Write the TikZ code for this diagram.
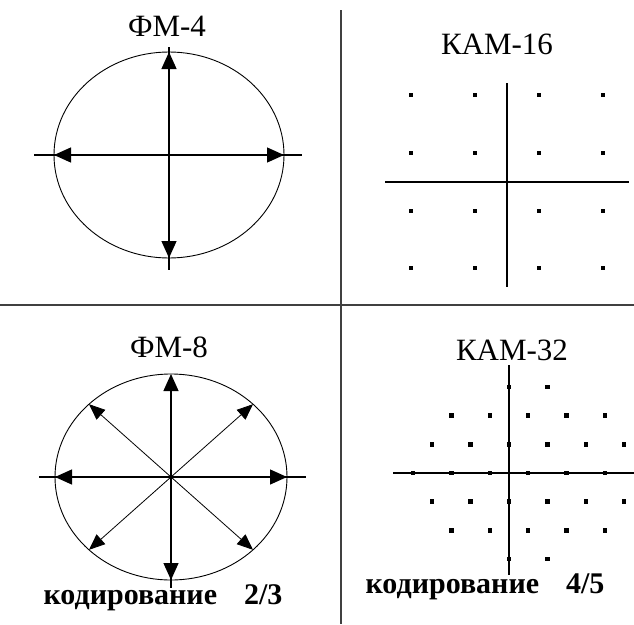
\documentclass[tikz,border=0pt]{standalone}
\usepackage{fontspec}
\setmainfont{Liberation Serif}
\usetikzlibrary{arrows.meta,positioning,calc}

\tikzset{
  title/.style={font=\fontsize{31}{33}\selectfont, inner sep=0pt},
  caption/.style={font=\fontsize{30}{32}\selectfont\bfseries, inner sep=0pt},
  axis/.style={line width=1.3pt},
  vec/.style={line width=1.3pt, -{Triangle[length=17pt, width=15pt]}},
  dvec/.style={line width=0.8pt, -{Triangle[length=16pt, width=13pt]}},
  ring/.style={line width=0.9pt},
  dot/.style={fill, rectangle, inner sep=0pt, minimum size=4.5pt},
}

\begin{document}
\begin{tikzpicture}[x=1pt, y=-1pt]
    \useasboundingbox (0,0) rectangle (634,624);
    
    % dividers
    \draw[line width=1.5pt, black!75] (0,305) -- (634,305);
    \draw[line width=1.5pt, black!75] (341,10) -- (341,624);
    
    % FM-4
    \node[title] (fm4) at (167,26) {ФМ-4};
    \coordinate (c4) at (169,155);
    \draw[ring] (c4) ellipse [x radius=115, y radius=103];
    \draw[axis] (34,155) -- (302,155);
    \draw[axis] (169,47) -- (169,270);
    \foreach \a/\n in {0/e, 90/n, 180/w, 270/s} {
      \coordinate (p4\n) at ($(c4)+({115*cos(\a)},{-103*sin(\a)})$);
      \draw[vec] (c4) -- (p4\n);
    }
    
    % KAM-16
    \node[title] (kam16) at (497,44) {КАМ-16};
    \coordinate (c16) at (507,182);
    \draw[axis] (385,182) -- (629,182);
    \draw[axis] (507,83) -- (507,287);
    \foreach \x in {411,475,539,603}
      \foreach \y in {95,153,211,268}
        \node[dot] at (\x,\y) {};
    
    % FM-8
    \node[title] (fm8) at (169,347) {ФМ-8};
    \coordinate (c8) at (171,477);
    \draw[ring] (c8) ellipse [x radius=116, y radius=103];
    \draw[axis] (39,477) -- (306,477);
    \draw[axis] (171,376) -- (171,588);
    \foreach \a/\n in {0/e, 90/n, 180/w, 270/s} {
      \coordinate (p8\n) at ($(c8)+({116*cos(\a)},{-103*sin(\a)})$);
      \draw[vec] (c8) -- (p8\n);
    }
    \foreach \a/\n in {45/ne, 135/nw, 225/sw, 315/se} {
      \coordinate (p8\n) at ($(c8)+({116*cos(\a)},{-103*sin(\a)})$);
      \draw[dvec] (c8) -- (p8\n);
    }
    \fill (c8) circle (2pt);
    \node[caption] (code23) at (163,598) {кодирование\hspace{27pt}2/3};
    
    % KAM-32
    \node[title] (kam32) at (512,350) {КАМ-32};
    \coordinate (c32) at (509,473);
    \draw[axis] (393,473) -- (634,473);
    \draw[axis] (509,365) -- (509,575);
    \foreach \r/\ks in {0/{5,7}, 1/{2,4,6,8,10}, 2/{1,3,5,7,9,11}, 3/{0,2,4,6,8,10},
                        4/{1,3,5,7,9,11}, 5/{2,4,6,8,10}, 6/{5,7}}
      \foreach \k in \ks
        \node[dot] at ({413+19.2*\k},{387+28.67*\r}) {};
    \node[caption] (code45) at (485,587) {кодирование\hspace{27pt}4/5};
\end{tikzpicture}
\end{document}
